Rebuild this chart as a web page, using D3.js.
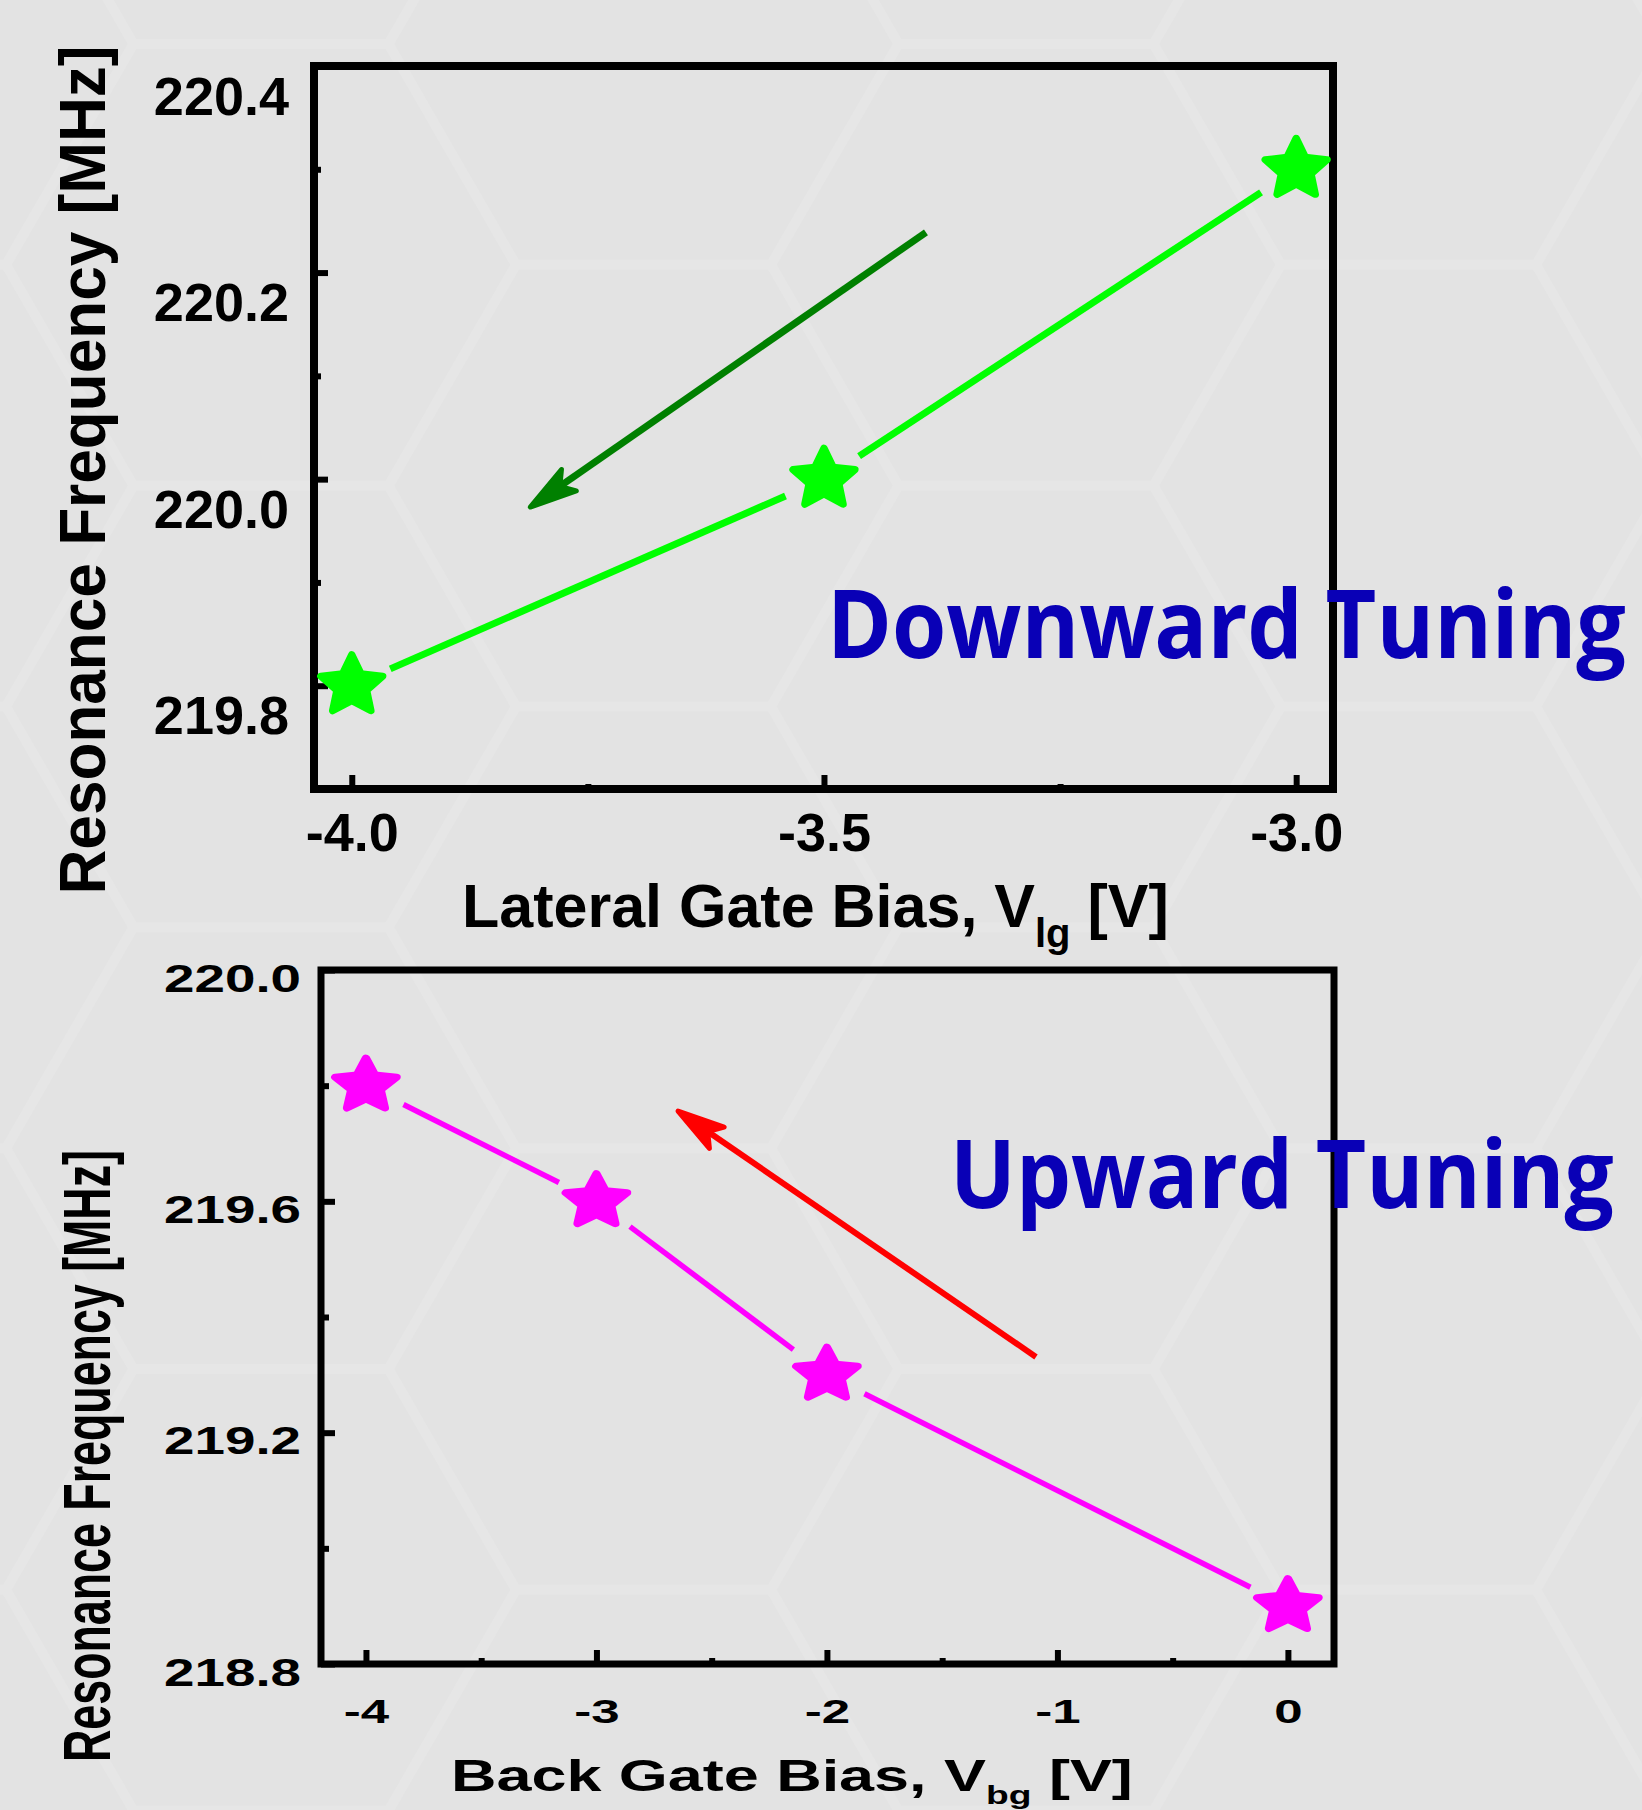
<!DOCTYPE html>
<html>
<head>
<meta charset="utf-8">
<script src="https://cdn.jsdelivr.net/npm/d3@7"></script>
<style>
  body { margin: 0; background: #e3e3e3; }
  svg text { font-family: "Liberation Sans", Arial, sans-serif; font-weight: bold; }
</style>
</head>
<body>
<svg id="fig" width="1642" height="1810"></svg>
<script>
// top panel: lateral gate tuning
const lgBias = [-4.0, -3.5, -3.0];
const lgFreq = [219.8, 220.0, 220.3];
const lgXTicks = [-4.0, -3.5, -3.0];
const lgXMinor = [-3.75, -3.25];
const lgYTicks = [220.4, 220.2, 220.0, 219.8];
const lgYMinor = [220.3, 220.1, 219.9];
const lgArrow = [[-3.392, 220.239], [-3.811, 219.973]]; // tail, tip

// bottom panel: back gate tuning
const bgBias = [-4, -3, -2, 0];
const bgFreq = [219.8, 219.6, 219.3, 218.9];
const bgXTicks = [-4, -3, -2, -1, 0];
const bgXMinor = [-3.5, -2.5, -1.5, -0.5];
const bgYTicks = [220.0, 219.6, 219.2, 218.8];
const bgYMinor = [219.8, 219.4, 219.0];
const bgArrow = [[-1.093, 219.331], [-2.646, 219.756]];

const svg = d3.select("#fig");
const BLUE = "#0900b6";

/* background with faint hexagons */
svg.append("rect").attr("width", 1642).attr("height", 1810).attr("fill", "#e3e3e3");
const hs = 255, hh = hs * Math.sqrt(3);
const hex = d3.path();
for (let c = -1; c < 6; c++) {
  for (let j = -1; j < 6; j++) {
    const cx = 261 + c * 1.5 * hs;
    const cy = 44 + hh / 2 + j * hh + (Math.abs(c) % 2 ? hh / 2 : 0);
    for (let k = 0; k <= 6; k++) {
      const a = k * Math.PI / 3;
      const px = cx + hs * Math.cos(a), py = cy + hs * Math.sin(a);
      k ? hex.lineTo(px, py) : hex.moveTo(px, py);
    }
  }
}
svg.append("path").attr("d", hex.toString()).attr("fill", "none")
  .attr("stroke", "#e6e6e6").attr("stroke-width", 10);

/* rounded five point star */
const fatStar = {
  draw(ctx, size) {
    const R = Math.sqrt(size), r = R * 0.48;
    for (let i = 0; i < 10; i++) {
      const a = -Math.PI / 2 + i * Math.PI / 5, rr = i % 2 ? r : R;
      if (i) ctx.lineTo(rr * Math.cos(a), rr * Math.sin(a));
      else ctx.moveTo(rr * Math.cos(a), rr * Math.sin(a));
    }
    ctx.closePath();
  }
};

function stretch(sel, f) {
  sel.each(function () {
    const w = this.getComputedTextLength();
    d3.select(this).attr("textLength", w * f).attr("lengthAdjust", "spacingAndGlyphs");
  });
}

// text squeezed/stretched horizontally to a given width
function fitText(x, y, width, size, str) {
  const t = svg.append("text")
    .style("font-family", "'Open Sans', sans-serif")
    .attr("font-size", size).attr("fill", BLUE).text(str);
  const w = t.node().getComputedTextLength();
  t.attr("transform", `translate(${x},${y}) scale(${width / w},1)`);
}

function drawPanel(p) {
  const g = svg.append("g");
  const [x0, x1] = p.x.range(), [y0, y1] = p.y.range();

  // left axis
  g.append("g").attr("transform", `translate(${x0},0)`)
    .call(d3.axisLeft(p.y).tickValues(p.yMinor).tickSize(-p.minorLen).tickFormat(""))
    .call(a => a.select(".domain").remove());
  const ya = g.append("g").attr("transform", `translate(${x0},0)`)
    .call(d3.axisLeft(p.y).tickValues(p.yTicks).tickSize(-p.majorLen)
      .tickPadding(p.yPad).tickFormat(d => d.toFixed(1)))
    .call(a => a.select(".domain").remove());
  ya.selectAll("text").attr("y", p.yShift).attr("font-size", p.yFont).attr("fill", "#000");
  if (p.yStretch) stretch(ya.selectAll("text"), p.yStretch);

  // bottom axis
  g.append("g").attr("transform", `translate(0,${y0})`)
    .call(d3.axisBottom(p.x).tickValues(p.xMinor).tickSize(-p.xMinorLen).tickFormat(""))
    .call(a => a.select(".domain").remove());
  const xa = g.append("g").attr("transform", `translate(0,${y0})`)
    .call(d3.axisBottom(p.x).tickValues(p.xTicks).tickSize(-p.majorLen)
      .tickPadding(p.xPad).tickFormat(d => d.toFixed(p.xDigits)))
    .call(a => a.select(".domain").remove());
  xa.selectAll("text").attr("font-size", p.xFont).attr("fill", "#000");
  if (p.xStretch) stretch(xa.selectAll("text"), p.xStretch);

  g.selectAll(".tick line").attr("stroke", "#000").attr("stroke-width", 6);

  // frame
  g.append("rect").attr("x", x0).attr("y", y1)
    .attr("width", x1 - x0).attr("height", y0 - y1)
    .attr("fill", "none").attr("stroke", "#000").attr("stroke-width", p.frame);

  // arrow annotation
  const [t, h] = p.arrow.map(d => [p.x(d[0]), p.y(d[1])]);
  const ang = Math.atan2(h[1] - t[1], h[0] - t[0]);
  const back = 36;
  g.append("line")
    .attr("x1", t[0]).attr("y1", t[1])
    .attr("x2", h[0] - back * Math.cos(ang)).attr("y2", h[1] - back * Math.sin(ang))
    .attr("stroke", p.arrowColor).attr("stroke-width", p.arrowWidth);
  g.append("path")
    .attr("d", "M0,0L-47,-13L-36,0L-47,13Z")
    .attr("transform", `translate(${h[0]},${h[1]}) rotate(${ang * 180 / Math.PI})`)
    .attr("fill", p.arrowColor).attr("stroke", p.arrowColor)
    .attr("stroke-width", 5).attr("stroke-linejoin", "round");

  // data line, broken around each marker
  const pts = p.xs.map((v, i) => [p.x(v), p.y(p.ys[i])]);
  const gap = 42;
  g.selectAll(".seg").data(d3.pairs(pts)).join("line").attr("class", "seg")
    .each(function ([a, b]) {
      const L = Math.hypot(b[0] - a[0], b[1] - a[1]);
      const ux = (b[0] - a[0]) / L, uy = (b[1] - a[1]) / L;
      d3.select(this)
        .attr("x1", a[0] + ux * gap).attr("y1", a[1] + uy * gap)
        .attr("x2", b[0] - ux * gap).attr("y2", b[1] - uy * gap);
    })
    .attr("stroke", p.color).attr("stroke-width", p.lineWidth);

  g.selectAll(".star").data(pts).join("path").attr("class", "star")
    .attr("d", d3.symbol(fatStar, p.starR * p.starR))
    .attr("transform", d => `translate(${d[0]},${d[1]}) scale(${p.starSx},1)`)
    .attr("fill", p.color).attr("stroke", p.color)
    .attr("stroke-width", 7).attr("stroke-linejoin", "round");
}

drawPanel({
  x: d3.scaleLinear().domain([-4.04, -2.961]).range([314, 1333]),
  y: d3.scaleLinear().domain([219.7, 220.4]).range([789, 66]),
  xs: lgBias, ys: lgFreq,
  xTicks: lgXTicks, xMinor: lgXMinor, yTicks: lgYTicks, yMinor: lgYMinor,
  xDigits: 1,
  majorLen: 14, minorLen: 7, xMinorLen: 5,
  yPad: 25, yShift: 31, yFont: 54,
  xPad: 24, xFont: 54,
  frame: 8,
  color: "#00ff00", lineWidth: 7, starR: 31, starSx: 1.05,
  arrow: lgArrow, arrowColor: "#008000", arrowWidth: 7
});

drawPanel({
  x: d3.scaleLinear().domain([-4.195, 0.2]).range([321, 1334]),
  y: d3.scaleLinear().domain([218.8, 220.0]).range([1664, 970]),
  xs: bgBias, ys: bgFreq,
  xTicks: bgXTicks, xMinor: bgXMinor, yTicks: bgYTicks, yMinor: bgYMinor,
  xDigits: 0,
  majorLen: 14, minorLen: 8, xMinorLen: 6,
  yPad: 20, yShift: 9, yFont: 38, yStretch: 1.44,
  xPad: 35, xFont: 34, xStretch: 1.5,
  frame: 7,
  color: "#ff00ff", lineWidth: 5.5, starR: 27.6, starSx: 1.17,
  arrow: bgArrow, arrowColor: "#ff0000", arrowWidth: 6
});

/* axis titles */
svg.append("text")
  .attr("transform", "translate(105,470) rotate(-90)")
  .attr("text-anchor", "middle").attr("font-size", 64)
  .attr("textLength", 849).attr("lengthAdjust", "spacingAndGlyphs")
  .text("Resonance Frequency [MHz]");

svg.append("text")
  .attr("transform", "translate(110,1456) rotate(-90)")
  .attr("text-anchor", "middle").attr("font-size", 66)
  .attr("textLength", 612).attr("lengthAdjust", "spacingAndGlyphs")
  .text("Resonance Frequency [MHz]");

const tx = svg.append("text").attr("x", 462).attr("y", 927).attr("font-size", 61);
tx.append("tspan").text("Lateral Gate Bias, V");
tx.append("tspan").attr("dy", 20).attr("font-size", 40).text("lg");
tx.append("tspan").attr("dy", -20).text(" [V]");

const bx = svg.append("g").attr("transform", "translate(451,1791) scale(1.43,1)")
  .append("text").attr("font-size", 44);
bx.append("tspan").text("Back Gate Bias, V");
bx.append("tspan").attr("dy", 13).attr("font-size", 26).text("bg");
bx.append("tspan").attr("dy", -13).text(" [V]");

/* panel annotations */
fitText(827, 658, 799, 95, "Downward Tuning");
fitText(950, 1208, 664, 95, "Upward Tuning");
</script>
</body>
</html>
